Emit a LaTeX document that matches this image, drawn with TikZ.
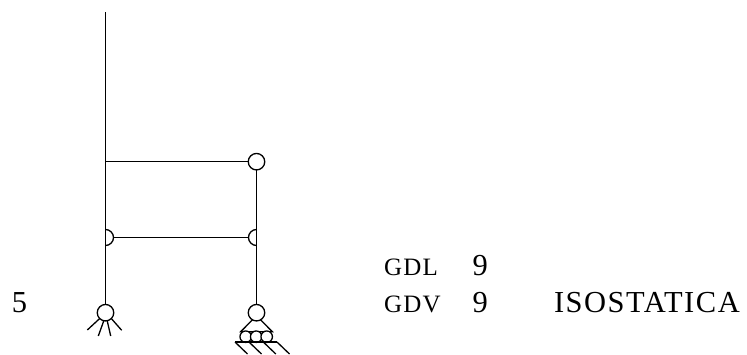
\documentclass[tikz,border=0pt]{standalone}
\usepackage{fontspec}
\setmainfont[LetterSpace=5]{Liberation Serif}
\tikzset{
  struct/.style={line width=1.3pt,black},
  hinge/.style={circle,draw=black,line width=1.3pt,fill=white,minimum size=16.5pt,inner sep=0pt,outer sep=0pt},
  roller/.style={circle,draw=black,line width=1.3pt,fill=white,minimum size=11.5pt,inner sep=0pt,outer sep=0pt},
  big/.style={inner sep=0pt,outer sep=0pt,anchor=base west,font=\fontsize{30.5}{30.5}\selectfont},
  small/.style={inner sep=0pt,outer sep=0pt,anchor=base west,font=\fontsize{25}{25}\selectfont}
}
\begin{document}
\begin{tikzpicture}[x=1pt,y=-1pt]
\useasboundingbox (0,0) rectangle (747,354);
\coordinate (top) at (105.5,12);
\coordinate (jl) at (105.5,161.7);
\node[hinge] (hr) at (256.5,161.7) {};
\node[hinge] (sl) at (105.5,312.7) {};
\node[hinge] (sr) at (256.5,312.7) {};
% columns and beams
\draw[struct] (top) -- (sl.north);
\draw[struct] (hr.south) -- (sr.north);
\draw[struct] (jl) -- (hr.west);
% partial hinges
\coordinate (bl1) at (105.5,245.5);
\coordinate (br1) at (256.5,245.5);
\draw[struct] (bl1) arc[start angle=90,end angle=-90,radius=8];
\draw[struct] (br1) arc[start angle=90,end angle=270,radius=8];
\coordinate (bl2) at (113.5,237.5);
\coordinate (br2) at (248.5,237.5);
\draw[struct] (bl2) -- (br2);
% fixed support
\coordinate (a1) at (87.3,330); \coordinate (a2) at (98.3,336);
\coordinate (a3) at (110.7,336); \coordinate (a4) at (121.7,330.3);
\draw[struct] (sl.225) -- (a1);
\draw[struct] (sl.258) -- (a2);
\draw[struct] (sl.282) -- (a3);
\draw[struct] (sl.315) -- (a4);
% roller support
\coordinate (t1) at (240.7,331.7); \coordinate (t2) at (272.3,331.7);
\draw[struct] (sr.240) -- (t1) -- (t2) -- (sr.300);
\node[roller] (r1) at (245.7,336.7) {};
\node[roller] (r2) at (256.2,336.7) {};
\node[roller] (r3) at (266.7,336.7) {};
\coordinate (g1) at (235,342); \coordinate (g2) at (277,342);
\draw[struct] (g1) -- (g2);
\foreach \x in {235,249,263.3,277}{\draw[struct] (\x,342) -- (\x+12.5,354);}
% texts
\node[big] (n5) at (12,312.7) {5};
\node[small] (gdl) at (384,275) {GDL};
\node[small] (gdv) at (384,312.7) {GDV};
\node[big] (n9a) at (472.5,275.2) {9};
\node[big] (n9b) at (472.5,312.7) {9};
\node[big] (iso) at (554,312.7) {ISOSTATICA};
\end{tikzpicture}
\end{document}
